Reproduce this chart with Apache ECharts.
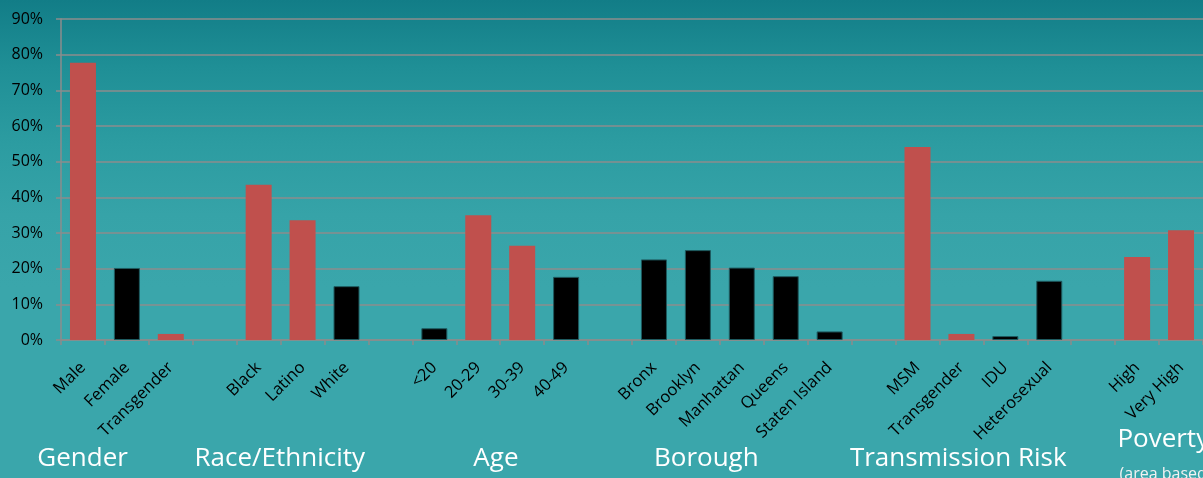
<!DOCTYPE html>
<html>
<head>
<meta charset="utf-8">
<script src="https://cdn.jsdelivr.net/npm/echarts@6/dist/echarts.min.js"></script>
<style>
  html, body { margin: 0; padding: 0; }
  #chart {
    width: 1203px; height: 478px;
    background: linear-gradient(to bottom, #127d87 0%, #1f8f96 14%, #2c9ca1 30%, #36a3a8 45%, #3aa6ab 60%, #3aa6ab 100%);
  }
</style>
</head>
<body>
<div id="chart"></div>
<script>
// Categories along the x axis ('' = gap between groups)
var categories = [
  'Male', 'Female', 'Transgender', '',
  'Black', 'Latino', 'White', '',
  '<20', '20-29', '30-39', '40-49', '',
  'Bronx', 'Brooklyn', 'Manhattan', 'Queens', 'Staten Island', '',
  'MSM', 'Transgender', 'IDU', 'Heterosexual', '',
  'High', 'Very High'
];
// Red (highlighted) bars, percent
var redValues = [
  77.7, '-', 1.7, '-',
  43.5, 33.6, '-', '-',
  '-', 35.0, 26.4, '-', '-',
  '-', '-', '-', '-', '-', '-',
  54.1, 1.7, '-', '-', '-',
  23.3, 30.8
];
// Black bars, percent
var blackValues = [
  '-', 20.2, '-', '-',
  '-', '-', 15.1, '-',
  3.3, '-', '-', 17.7, '-',
  22.6, 25.2, 20.3, 17.9, 2.4, '-',
  '-', '-', 1.1, 16.6, '-',
  '-', '-'
];
// Y axis ticks
var yMin = 0, yMax = 90, yStep = 10;
// Group titles under the axis
var groupNames = ['Gender', 'Race/Ethnicity', 'Age', 'Borough', 'Transmission Risk'];
var povertyTitle = 'Poverty';
var povertyNote = '(area based)';

var FONT = '"Open Sans", "Noto Sans", sans-serif';
var chart = echarts.init(document.getElementById('chart'));

var gridLeft = 61, gridTop = 19, gridBottom = 138;
var catW = 44.2;
var gridRight = 1203 - (gridLeft + catW * categories.length);

// Horizontal positions of group titles, in category units from the axis start
var groupPos = [0.49, 4.95, 9.84, 14.6, 20.3];
function px(u) { return gridLeft + u * catW; }

var graphics = groupNames.map(function (name, i) {
  return {
    type: 'text',
    x: px(groupPos[i]), y: 472,
    style: { text: name, fill: '#ffffff', font: '26px ' + FONT, textAlign: 'center', textVerticalAlign: 'bottom' }
  };
});
graphics.push({
  type: 'text', x: px(23.9), y: 453,
  style: { text: povertyTitle, fill: '#ffffff', font: '26px ' + FONT, textAlign: 'left', textVerticalAlign: 'bottom' }
});
graphics.push({
  type: 'text', x: px(23.95), y: 482,
  style: { text: povertyNote, fill: '#f2f2f2', font: '16px ' + FONT, textAlign: 'left', textVerticalAlign: 'bottom' }
});

chart.setOption({
  animation: false,
  grid: { left: gridLeft, right: gridRight, top: gridTop, bottom: gridBottom, containLabel: false },
  xAxis: {
    type: 'category',
    data: categories,
    axisLine: { lineStyle: { color: '#8c8c8c', width: 1.5 } },
    axisTick: { show: true, length: 5, alignWithLabel: false, lineStyle: { color: '#8c8c8c', width: 1.5 } },
    axisLabel: {
      interval: 0, rotate: 45, margin: 25,
      color: '#000000', fontSize: 16.5, fontFamily: FONT
    }
  },
  yAxis: {
    type: 'value',
    min: yMin, max: yMax, interval: yStep,
    axisLine: { show: true, lineStyle: { color: '#8c8c8c', width: 1.5 } },
    axisTick: { show: true, length: 5, lineStyle: { color: '#8c8c8c', width: 1.5 } },
    splitLine: { lineStyle: { color: '#8c8c8c', width: 1.5 } },
    axisLabel: { formatter: '{value}%', color: '#000000', fontSize: 16, fontFamily: FONT, margin: 18 }
  },
  series: [
    {
      name: 'red', type: 'bar', stack: 'all', data: redValues,
      barWidth: 26,
      itemStyle: { color: '#c0504d' }
    },
    {
      name: 'black', type: 'bar', stack: 'all', data: blackValues,
      barWidth: 26,
      itemStyle: { color: '#000000', borderColor: '#1e5a5f', borderWidth: 1 }
    }
  ],
  graphic: graphics
});
</script>
</body>
</html>
